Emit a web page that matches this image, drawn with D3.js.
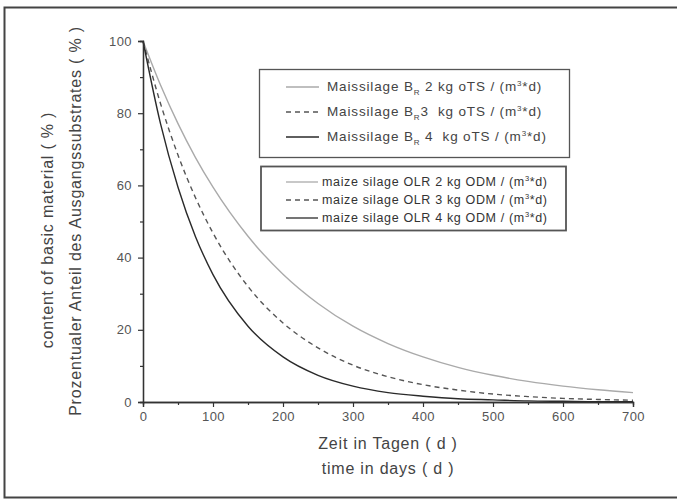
<!DOCTYPE html>
<html>
<head>
<meta charset="utf-8">
<script src="https://cdn.jsdelivr.net/npm/d3@7"></script>
<style>
  body { margin: 0; background: #fff; }
  svg { font-family: 'Liberation Sans', Arial, sans-serif; }
  text { white-space: pre; }
</style>
</head>
<body>
<svg></svg>
<script>
// canvas
const width = 677
const height = 500

// data (days, % of basic material)
const days = [0, 25, 50, 75, 100, 150, 200, 250, 300, 350, 400, 450, 500, 550, 600, 650, 700]
const olr2 = [100, 87.8, 77.1, 67.7, 59.5, 45.9, 35.4, 27.3, 21.0, 16.2, 12.5, 9.6, 7.4, 5.7, 4.4, 3.4, 2.6]
const olr3 = [100, 82.7, 68.4, 56.6, 46.8, 32.0, 21.9, 15.0, 10.2, 7.0, 4.8, 3.3, 2.2, 1.5, 1.0, 0.7, 0.5]
const olr4 = [100, 77.1, 59.5, 45.8, 35.3, 21.0, 12.5, 7.4, 4.4, 2.6, 1.6, 0.9, 0.6, 0.3, 0.2, 0.1, 0.1]

const xTicks = [0, 100, 200, 300, 400, 500, 600, 700]
const yTicks = [0, 20, 40, 60, 80, 100]

// legend texts
const legendDe = [
  ['Maissilage B', 'R', ' 2 kg oTS / (m', '3', '*d)'],
  ['Maissilage B', 'R', '3  kg oTS / (m', '3', '*d)'],
  ['Maissilage B', 'R', ' 4  kg oTS / (m', '3', '*d)']
]
const legendEn = [
  'maize silage OLR 2 kg ODM / (m',
  'maize silage OLR 3 kg ODM / (m',
  'maize silage OLR 4 kg ODM / (m'
]

// series styles
const styles = [
  { color: '#aaa', dash: null },
  { color: '#555', dash: '5,4' },
  { color: '#2a2a2a', dash: null }
]
const series = [olr2, olr3, olr4]

const svg = d3.select('svg')
  .attr('width', width)
  .attr('height', height)

// outer frame (right edge is cut off in the scan)
svg.append('path')
  .attr('d', 'M 690 7.5 L 4.5 7.5 L 4.5 497.5 L 690 497.5')
  .attr('fill', 'none')
  .attr('stroke', '#444')
  .attr('stroke-width', 2)

const xScale = d3.scaleLinear().domain([0, 700]).range([143, 633])
const yScale = d3.scaleLinear().domain([0, 100]).range([402, 41])

// curves
const line = d3.line()
  .x((d, i) => xScale(days[i]))
  .y(d => yScale(d))
  .curve(d3.curveMonotoneX)

series.forEach((s, i) => {
  svg.append('path')
    .datum(s)
    .attr('d', line)
    .attr('fill', 'none')
    .attr('stroke', styles[i].color)
    .attr('stroke-width', 1.4)
    .attr('stroke-dasharray', styles[i].dash)
})

// axes
const xAxis = d3.axisBottom(xScale).tickValues(xTicks).tickSize(5).tickPadding(5)
const xMinor = d3.axisBottom(xScale).tickValues(d3.range(50, 700, 100)).tickSize(3).tickFormat('')
const yAxis = d3.axisLeft(yScale).tickValues(yTicks).tickSize(5).tickPadding(6)
const yMinor = d3.axisLeft(yScale).tickValues(d3.range(10, 100, 20)).tickSize(3).tickFormat('')

function styleAxis (g) {
  g.select('.domain').attr('stroke', '#333').attr('stroke-width', 1.3)
  g.selectAll('line').attr('stroke', '#333').attr('stroke-width', 1.2)
  g.selectAll('text')
    .attr('fill', '#555')
    .style('font-size', '13px')
    .style('letter-spacing', '0.4px')
    .style('font-family', "'Liberation Sans', Arial, sans-serif")
}

svg.append('g').attr('transform', 'translate(0,' + 402 + ')').call(xMinor).call(styleAxis)
svg.append('g').attr('transform', 'translate(0,' + 402 + ')').call(xAxis).call(styleAxis)
svg.append('g').attr('transform', 'translate(143,0)').call(yMinor).call(styleAxis)
svg.append('g').attr('transform', 'translate(143,0)').call(yAxis).call(styleAxis)

// axis titles
function title (x, y, rot, txt) {
  svg.append('text')
    .attr('transform', 'translate(' + x + ',' + y + ') rotate(' + rot + ')')
    .attr('text-anchor', 'middle')
    .attr('fill', '#444')
    .style('font-size', '16px')
    .style('letter-spacing', '0.8px')
    .text(txt)
}
title(388, 449, 0, 'Zeit in Tagen ( d )')
title(388, 474, 0, 'time in days ( d )')
title(53, 230, -90, 'content of basic material ( % )')
title(81, 221, -90, 'Prozentualer Anteil des Ausgangssubstrates ( % )')

// legend 1 (German)
svg.append('rect')
  .attr('x', 259.5).attr('y', 69.5).attr('width', 310).attr('height', 88)
  .attr('fill', '#fff').attr('stroke', '#555').attr('stroke-width', 1.3)

legendDe.forEach((parts, i) => {
  const y = 87 + i * 25
  svg.append('line')
    .attr('x1', 286).attr('x2', 319).attr('y1', y).attr('y2', y)
    .attr('stroke', styles[i].color)
    .attr('stroke-width', 1.3)
    .attr('stroke-dasharray', styles[i].dash)
  const t = svg.append('text')
    .attr('x', 327).attr('y', y + 4)
    .attr('fill', '#444')
    .style('font-size', '13.5px')
    .style('letter-spacing', '0.85px')
  t.append('tspan').text(parts[0])
  t.append('tspan').attr('dy', 4).style('font-size', '8px').text(parts[1])
  t.append('tspan').attr('dy', -4).text(parts[2])
  t.append('tspan').attr('dy', -5).style('font-size', '8px').text(parts[3])
  t.append('tspan').attr('dy', 5).text(parts[4])
})

// legend 2 (English)
svg.append('rect')
  .attr('x', 261).attr('y', 166.5).attr('width', 305).attr('height', 64)
  .attr('fill', '#fff').attr('stroke', '#555').attr('stroke-width', 1.8)

legendEn.forEach((label, i) => {
  const y = 182 + i * 18
  svg.append('line')
    .attr('x1', 286).attr('x2', 318).attr('y1', y).attr('y2', y)
    .attr('stroke', styles[i].color)
    .attr('stroke-width', 1.3)
    .attr('stroke-dasharray', styles[i].dash)
  const t = svg.append('text')
    .attr('x', 322).attr('y', y + 4)
    .attr('fill', '#333')
    .style('font-size', '12.5px')
    .style('letter-spacing', '0.65px')
  t.append('tspan').text(label)
  t.append('tspan').attr('dy', -5).style('font-size', '7.5px').text('3')
  t.append('tspan').attr('dy', 5).text('*d)')
})
</script>
</body>
</html>
